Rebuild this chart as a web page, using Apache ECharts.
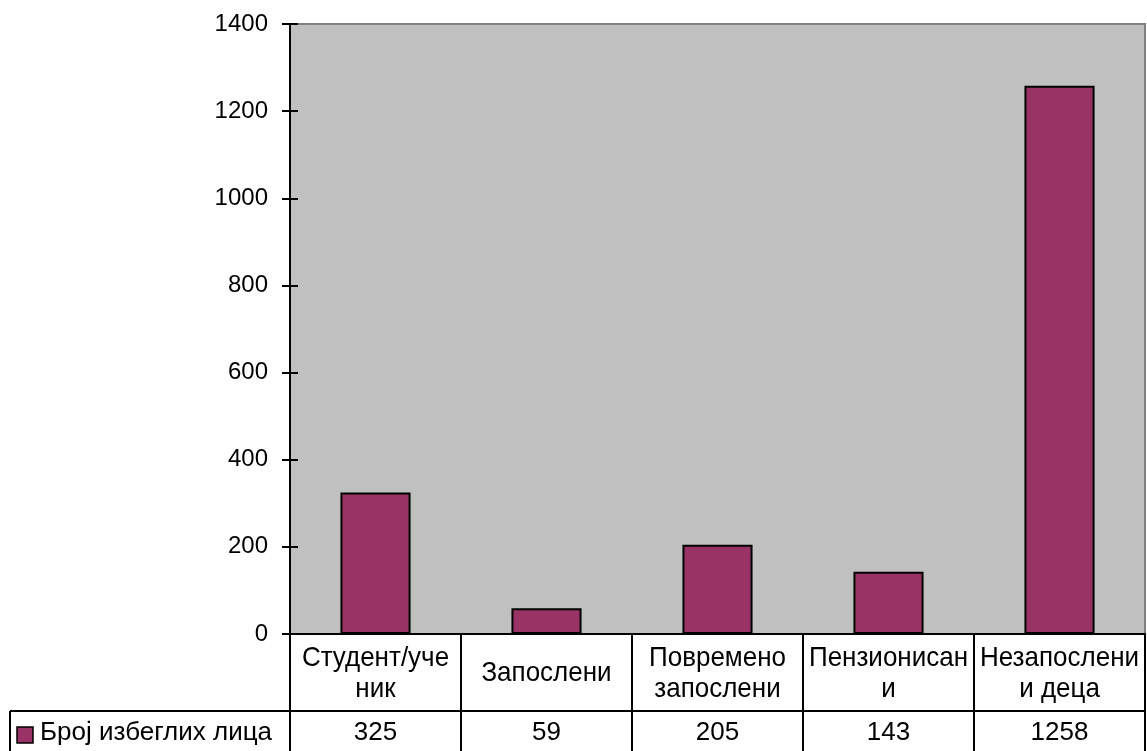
<!DOCTYPE html>
<html><head><meta charset="utf-8">
<script src="https://cdn.jsdelivr.net/npm/echarts@6/dist/echarts.min.js"></script>
<style>html,body{margin:0;padding:0;background:#fff}#c{width:1147px;height:751px}</style>
</head><body><div id="c"></div>
<script>
const categories = ['Студент/уче\nник', 'Запослени', 'Повремено\nзапослени', 'Пензионисан\nи', 'Незапослени\nи деца'];
const values = [325, 59, 205, 143, 1258];
const seriesName = 'Број избеглих лица';
const yMin = 0, yMax = 1400, yStep = 200;

const FONT = '"Liberation Sans", Arial, sans-serif';
const chart = echarts.init(document.getElementById('c'));
chart.setOption({
  animation: false,
  grid: {left: 290, right: 2, top: 24, bottom: 117, show: true, backgroundColor: '#C0C0C0', borderColor: '#808080', borderWidth: 2},
  xAxis: {type: 'category', data: categories, axisLine: {lineStyle: {color: '#000', width: 2}}, axisTick: {show: false}, axisLabel: {show: false}, splitLine: {show: false}},
  yAxis: [
    {type: 'value', min: yMin, max: yMax, interval: yStep, axisLine: {show: true, lineStyle: {color: '#000', width: 2}},
     axisTick: {show: true, length: 8, lineStyle: {color: '#000', width: 2}},
     axisLabel: {fontSize: 24, color: '#000', margin: 22, fontFamily: FONT, formatter: v => String(v)}, splitLine: {show: false}},
    {type: 'value', min: yMin, max: yMax, interval: yStep, position: 'left', axisLine: {show: false},
     axisTick: {show: true, inside: true, length: 8, lineStyle: {color: '#000', width: 2}},
     axisLabel: {show: false}, splitLine: {show: false}}
  ],
  series: [{type: 'bar', name: seriesName, data: values, barWidth: '41%', itemStyle: {color: '#993366', borderColor: '#000', borderWidth: 2}}]
});

// Data table drawn from axis positions
const c0 = chart.convertToPixel({xAxisIndex: 0}, 0);
const c1 = chart.convertToPixel({xAxisIndex: 0}, 1);
const band = c1 - c0;
const leftX = c0 - band / 2;
const rightX = leftX + band * categories.length;
const y0 = chart.convertToPixel({yAxisIndex: 0}, 0);
const rowY = y0 + 77;
const bottomY = 760;
const g = [];
const ls = {stroke: '#000', lineWidth: 2};
for (let i = 0; i <= categories.length; i++) {
  const x = leftX + band * i;
  g.push({type: 'line', shape: {x1: x, y1: y0, x2: x, y2: bottomY}, style: ls, z: 100});
}
g.push({type: 'line', shape: {x1: 10, y1: rowY, x2: rightX, y2: rowY}, style: ls, z: 100});
g.push({type: 'line', shape: {x1: 10, y1: rowY, x2: 10, y2: bottomY}, style: ls, z: 100});
const TF = '26px ' + FONT;
categories.forEach((c, i) => {
  const cx = leftX + band * (i + 0.5);
  g.push({type: 'text', x: cx, y: (y0 + rowY) / 2 + 1, scaleY: 1.07, style: {text: c, fill: '#000', font: TF, align: 'center', verticalAlign: 'middle', lineHeight: 29}, z: 100});
  g.push({type: 'text', x: cx, y: rowY + 22, style: {text: String(values[i]), fill: '#000', font: TF, align: 'center', verticalAlign: 'middle'}, z: 100});
});
g.push({type: 'rect', shape: {x: 17, y: 727, width: 16, height: 16}, style: {fill: '#993366', stroke: '#000', lineWidth: 1.5}, z: 100});
g.push({type: 'text', x: 40, y: rowY + 22, style: {text: seriesName, fill: '#000', font: TF, align: 'left', verticalAlign: 'middle'}, z: 100});
chart.setOption({graphic: g});
</script>
</body></html>
